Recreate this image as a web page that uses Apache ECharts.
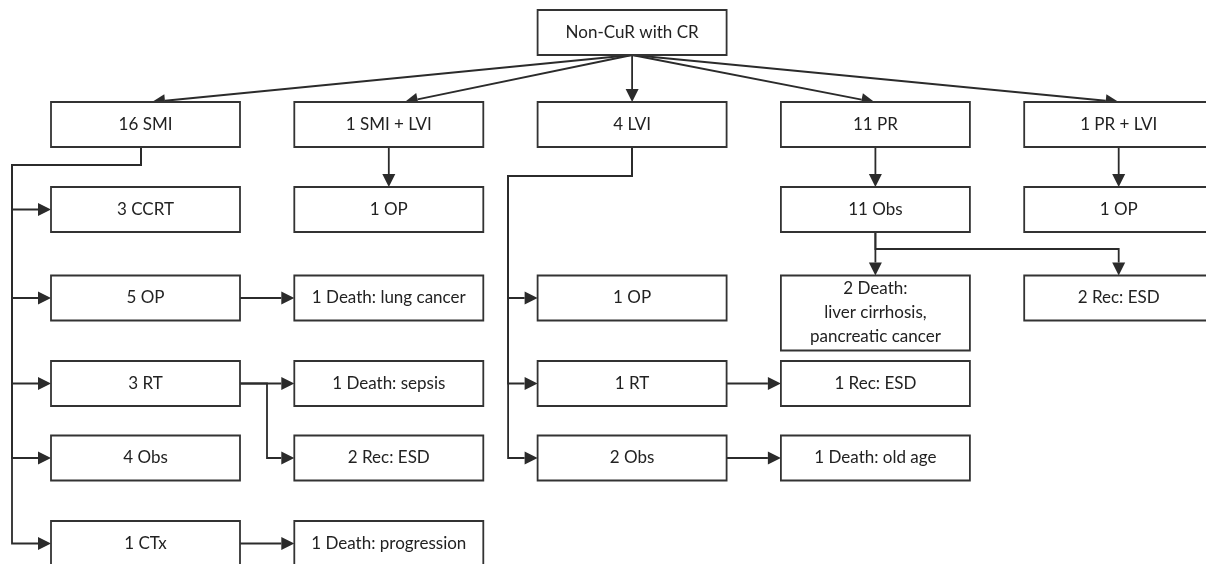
<!DOCTYPE html>
<html>
<head>
<meta charset="utf-8">
<script src="https://cdn.jsdelivr.net/npm/echarts@6/dist/echarts.min.js"></script>
<style>
  html, body { margin: 0; padding: 0; background: #fff; }
  #chart { width: 1206px; height: 564px; }
</style>
</head>
<body>
<div id="chart"></div>
<script>
// ---- Data: flowchart nodes (label, column, row) ----
const nodeLabels = [
  'Non-CuR with CR',
  '16 SMI', '1 SMI + LVI', '4 LVI', '11 PR', '1 PR + LVI',
  '3 CCRT', '1 OP', '11 Obs', '1 OP',
  '5 OP', '1 Death: lung cancer', '1 OP', '2 Death:\nliver cirrhosis,\npancreatic cancer', '2 Rec: ESD',
  '3 RT', '1 Death: sepsis', '1 RT', '1 Rec: ESD',
  '4 Obs', '2 Rec: ESD', '2 Obs', '1 Death: old age',
  '1 CTx', '1 Death: progression'
];
const nodeCol = [2, 0, 1, 2, 3, 4, 0, 1, 3, 4, 0, 1, 2, 3, 4, 0, 1, 2, 3, 0, 1, 2, 3, 0, 1];
const nodeRow = [0, 1, 1, 1, 1, 1, 2, 2, 2, 2, 3, 3, 3, 3, 3, 4, 4, 4, 4, 5, 5, 5, 5, 6, 6];

// ---- Data: connections (from, to, kind) ----
const edgeFrom = [0, 0, 0, 0, 0, 1, 1, 1, 1, 1, 3, 3, 3, 2, 4, 5, 8, 8, 10, 15, 15, 17, 21, 23];
const edgeTo   = [1, 2, 3, 4, 5, 6, 10, 15, 19, 23, 12, 17, 21, 7, 8, 9, 13, 14, 11, 16, 20, 18, 22, 24];
const edgeKind = ['fan', 'fan', 'fan', 'fan', 'fan',
  'bus', 'bus', 'bus', 'bus', 'bus', 'bus', 'bus', 'bus',
  'down', 'down', 'down', 'down', 'elbow',
  'right', 'right', 'branch', 'right', 'right', 'right'];

// ---- Layout (positions / sizes / styles) ----
const LAYOUT = {
  colCenter0: 145.5, colStep: 243.3,
  rowY: [32.5, 124.5, 209.5, 298, 383.5, 458, 543.5],
  boxW: 189, boxH: 45, lineExtra: 15,
  fanOffset: [6.5, 16, 0, -1, 0],
  busStemOffset: { 1: -4.5, 3: 0 },
  busDrop: { 1: 18, 3: 29 },
  busGap: { 1: 39, 3: 29.5 },
  elbowDrop: 17, branchGap: 27,
  arrowLen: 13, arrowHalf: 6.5,
  lineColor: '#2b2b2b', lineWidth: 1.8, boxColor: '#333',
  font: '17px Lato', lineHeight: 24, textColor: '#222'
};
const W = 1206, H = 564;

function geom(api, i) {
  const p = api.coord([nodeCol[i], LAYOUT.rowY[nodeRow[i]]]);
  const lines = nodeLabels[i].split('\n').length;
  const h = LAYOUT.boxH + (lines - 1) * LAYOUT.lineExtra;
  const top = p[1] - LAYOUT.boxH / 2;
  return {
    cx: p[0], cy: p[1], top: top, bottom: top + h, h: h,
    left: p[0] - LAYOUT.boxW / 2, right: p[0] + LAYOUT.boxW / 2
  };
}

function edgePoints(api, k) {
  const f = edgeFrom[k], t = edgeTo[k];
  const s = geom(api, f), d = geom(api, t);
  switch (edgeKind[k]) {
    case 'fan':
      return [[s.cx, s.bottom], [d.cx + LAYOUT.fanOffset[nodeCol[t]], d.top]];
    case 'bus': {
      const x0 = s.cx + LAYOUT.busStemOffset[f];
      const yj = s.bottom + LAYOUT.busDrop[f];
      const xb = s.left - LAYOUT.busGap[f];
      return [[x0, s.bottom], [x0, yj], [xb, yj], [xb, d.cy], [d.left, d.cy]];
    }
    case 'down':
      return [[d.cx, s.bottom], [d.cx, d.top]];
    case 'elbow': {
      const yj = s.bottom + LAYOUT.elbowDrop;
      return [[s.cx, s.bottom], [s.cx, yj], [d.cx, yj], [d.cx, d.top]];
    }
    case 'right':
      return [[s.right, s.cy], [d.left, d.cy]];
    case 'branch': {
      const xj = s.right + LAYOUT.branchGap;
      return [[s.right, s.cy], [xj, s.cy], [xj, d.cy], [d.left, d.cy]];
    }
  }
  return [];
}

const chart = echarts.init(document.getElementById('chart'), null, { renderer: 'canvas' });

const option = {
  animation: false,
  backgroundColor: '#fff',
  grid: { left: 0, right: 0, top: 0, bottom: 0 },
  xAxis: {
    type: 'value', show: false,
    min: -LAYOUT.colCenter0 / LAYOUT.colStep,
    max: (W - LAYOUT.colCenter0) / LAYOUT.colStep
  },
  yAxis: { type: 'value', show: false, inverse: true, min: 0, max: H },
  series: [
    {
      type: 'custom', name: 'edges', clip: false, silent: true,
      data: edgeFrom.map((_, k) => [0, 0, k]),
      renderItem: function (params, api) {
        const k = api.value(2);
        const pts = edgePoints(api, k);
        const n = pts.length;
        const tip = pts[n - 1], prev = pts[n - 2];
        let dx = tip[0] - prev[0], dy = tip[1] - prev[1];
        const len = Math.sqrt(dx * dx + dy * dy) || 1;
        dx /= len; dy /= len;
        const bx = tip[0] - dx * LAYOUT.arrowLen, by = tip[1] - dy * LAYOUT.arrowLen;
        const nx = -dy * LAYOUT.arrowHalf, ny = dx * LAYOUT.arrowHalf;
        const linePts = pts.slice(0, n - 1).concat([[bx, by]]);
        return {
          type: 'group',
          children: [
            { type: 'polyline', shape: { points: linePts },
              style: { stroke: LAYOUT.lineColor, lineWidth: LAYOUT.lineWidth, fill: null } },
            { type: 'polygon', shape: { points: [tip, [bx + nx, by + ny], [bx - nx, by - ny]] },
              style: { fill: LAYOUT.lineColor, stroke: null } }
          ]
        };
      }
    },
    {
      type: 'custom', name: 'nodes', clip: false, silent: true,
      data: nodeLabels.map((_, i) => [nodeCol[i], LAYOUT.rowY[nodeRow[i]], i]),
      renderItem: function (params, api) {
        const i = api.value(2);
        const g = geom(api, i);
        return {
          type: 'group',
          children: [
            { type: 'rect', shape: { x: g.left, y: g.top, width: LAYOUT.boxW, height: g.h },
              style: { fill: '#fff', stroke: LAYOUT.boxColor, lineWidth: LAYOUT.lineWidth } },
            { type: 'text',
              style: { text: nodeLabels[i], x: g.cx, y: g.top + g.h / 2,
                align: 'center', verticalAlign: 'middle',
                fill: LAYOUT.textColor, font: LAYOUT.font, lineHeight: LAYOUT.lineHeight } }
          ]
        };
      }
    }
  ]
};
chart.setOption(option);
</script>
</body>
</html>
